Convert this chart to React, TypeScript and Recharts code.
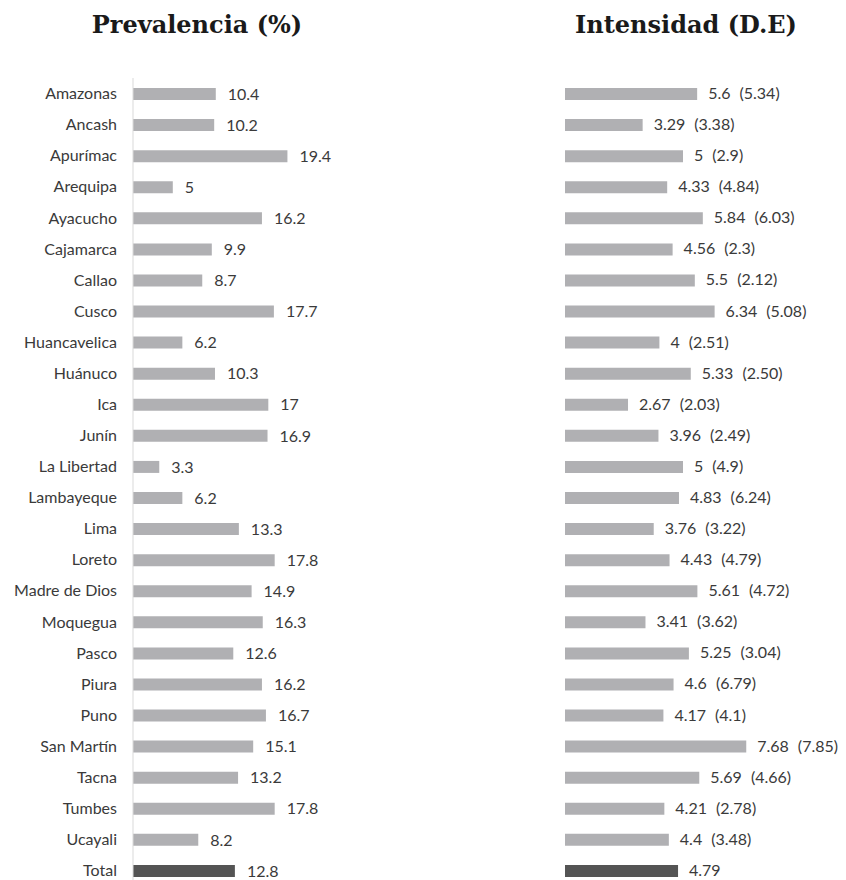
import React from "react";
import { BarChart, Bar, XAxis, YAxis, Cell, LabelList } from "recharts";

const regions = [
  "Amazonas", "Ancash", "Apurímac", "Arequipa", "Ayacucho", "Cajamarca", "Callao",
  "Cusco", "Huancavelica", "Huánuco", "Ica", "Junín", "La Libertad", "Lambayeque",
  "Lima", "Loreto", "Madre de Dios", "Moquegua", "Pasco", "Piura", "Puno",
  "San Martín", "Tacna", "Tumbes", "Ucayali", "Total",
];

const prevalence = [
  10.4, 10.2, 19.4, 5, 16.2, 9.9, 8.7, 17.7, 6.2, 10.3, 17, 16.9, 3.3, 6.2, 13.3,
  17.8, 14.9, 16.3, 12.6, 16.2, 16.7, 15.1, 13.2, 17.8, 8.2, 12.8,
];

const intensity = [
  5.6, 3.29, 5, 4.33, 5.84, 4.56, 5.5, 6.34, 4, 5.33, 2.67, 3.96, 5, 4.83, 3.76,
  4.43, 5.61, 3.41, 5.25, 4.6, 4.17, 7.68, 5.69, 4.21, 4.4, 4.79,
];

const intensitySD = [
  "5.34", "3.38", "2.9", "4.84", "6.03", "2.3", "2.12", "5.08", "2.51", "2.50",
  "2.03", "2.49", "4.9", "6.24", "3.22", "4.79", "4.72", "3.62", "3.04", "6.79",
  "4.1", "7.85", "4.66", "2.78", "3.48", "",
];

const rows = regions.map((region, i) => ({
  region,
  prevalence: prevalence[i],
  intensity: intensity[i],
  sd: intensitySD[i],
}));

const BAR_COLOR = "#b0b0b3";
const TOTAL_COLOR = "#545454";
const TEXT_COLOR = "#3a3a3a";
const FONT = "Lato, 'Open Sans', sans-serif";
const FONT_SIZE = 16;

const titleStyle: React.CSSProperties = {
  position: "absolute",
  top: 10,
  fontFamily: "'DejaVu Serif', serif",
  fontWeight: "bold",
  fontSize: 24,
  color: "#1a1a1a",
  textAlign: "center",
  whiteSpace: "nowrap",
  margin: 0,
};

function IntensityLabel(props: any) {
  const { x, y, width, height, index } = props;
  const row = rows[index];
  return (
    <text
      x={x + width + 11}
      y={y + height / 2}
      dy={5}
      fill={TEXT_COLOR}
      fontSize={FONT_SIZE}
      fontFamily={FONT}
    >
      <tspan>{row.intensity}</tspan>
      {row.sd ? <tspan dx={9}>({row.sd})</tspan> : null}
    </text>
  );
}

export default function App() {
  return (
    <div
      style={{
        position: "absolute",
        left: 0,
        top: 0,
        width: 846,
        height: 880,
        overflow: "hidden",
        background: "#fff",
      }}
    >
      <div style={{ ...titleStyle, left: 47, width: 300 }}>Prevalencia (%)</div>
      <div style={{ ...titleStyle, left: 536, width: 300 }}>Intensidad (D.E)</div>

      <div style={{ position: "absolute", left: 0, top: 0 }}>
        <BarChart
          width={420}
          height={886}
          data={rows}
          layout="vertical"
          margin={{ top: 78, right: 88, bottom: 0, left: 0 }}
          barSize={12}
        >
          <XAxis type="number" domain={[0, 25]} hide />
          <YAxis
            type="category"
            dataKey="region"
            width={133}
            tickLine={false}
            axisLine={{ stroke: "#d9d9d9" }}
            tickMargin={10}
            interval={0}
            tick={{ fontSize: FONT_SIZE, fill: TEXT_COLOR, fontFamily: FONT }}
          />
          <Bar dataKey="prevalence" isAnimationActive={false}>
            {rows.map((r, i) => (
              <Cell key={i} fill={r.region === "Total" ? TOTAL_COLOR : BAR_COLOR} />
            ))}
            <LabelList
              dataKey="prevalence"
              position="right"
              offset={12}
              fill={TEXT_COLOR}
              fontSize={FONT_SIZE}
              fontFamily={FONT}
            />
          </Bar>
        </BarChart>
      </div>

      <div style={{ position: "absolute", left: 420, top: 0 }}>
        <BarChart
          width={426}
          height={886}
          data={rows}
          layout="vertical"
          margin={{ top: 78, right: 45, bottom: 0, left: 145 }}
          barSize={12}
        >
          <XAxis type="number" domain={[0, 10]} hide />
          <YAxis type="category" dataKey="region" hide />
          <Bar dataKey="intensity" isAnimationActive={false}>
            {rows.map((r, i) => (
              <Cell key={i} fill={r.region === "Total" ? TOTAL_COLOR : BAR_COLOR} />
            ))}
            <LabelList dataKey="intensity" content={IntensityLabel} />
          </Bar>
        </BarChart>
      </div>
    </div>
  );
}
